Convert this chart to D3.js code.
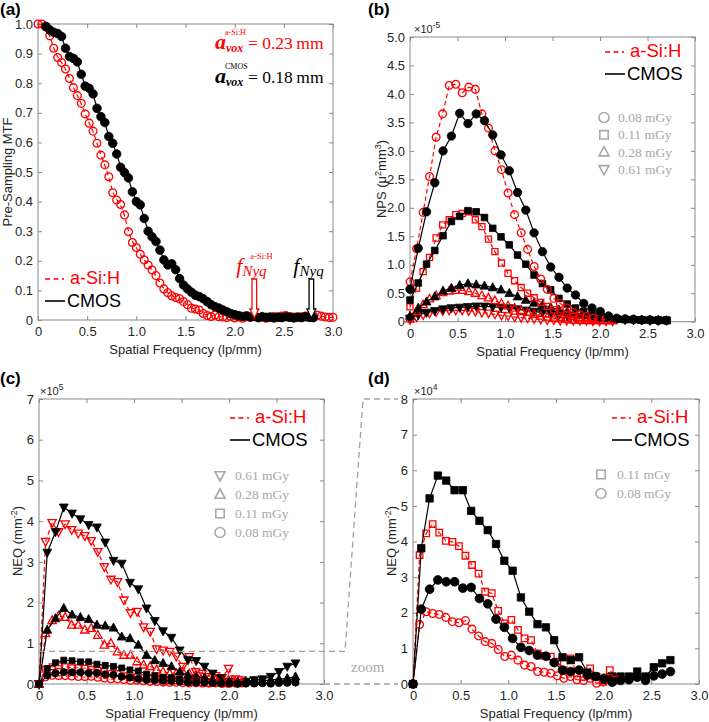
<!DOCTYPE html>
<html><head><meta charset="utf-8">
<script src="https://cdn.jsdelivr.net/npm/d3@7"></script>
<style>body{margin:0;background:#fff}</style>
</head><body><script>
// ---------------- DATA ----------------
// (a) Pre-sampling MTF
const mtfFreq = [0,0.04,0.08,0.12,0.16,0.20,0.24,0.28,0.32,0.36,0.40,0.44,0.48,0.52,0.56,0.60,0.64,0.68,0.72,0.76,0.80,0.84,0.88,0.92,0.96,1.00,1.04,1.08,1.12,1.16,1.20,1.24,1.28,1.32,1.36,1.40,1.44,1.48,1.52,1.56,1.60,1.64,1.68,1.72,1.76,1.80,1.84,1.88,1.92,1.96,2.00,2.04,2.08,2.12,2.16,2.20,2.24,2.28,2.32,2.36,2.40,2.44,2.48,2.52,2.56,2.60,2.64,2.68,2.72,2.76,2.80,2.84,2.88,2.92,2.96,3.00];
const mtfASi = [1.000,1.000,0.990,0.960,0.918,0.887,0.870,0.848,0.816,0.785,0.758,0.732,0.696,0.665,0.638,0.597,0.557,0.524,0.484,0.430,0.405,0.390,0.355,0.298,0.262,0.245,0.222,0.203,0.186,0.169,0.150,0.125,0.105,0.092,0.082,0.076,0.072,0.062,0.052,0.040,0.037,0.034,0.022,0.015,0.012,0.017,0.011,0.010,0.008,0.012,0.007,0.010,0.006,0.011,0.009,0.012,0.008,0.010,0.006,0.009,0.012,0.008,0.013,0.015,0.012,0.010,0.008,0.011,0.013,0.009,0.014,0.016,0.013,0.010,0.008,0.009];
const mtfCmos = [null,null,0.992,0.980,0.972,0.968,0.958,0.918,0.890,0.884,0.872,0.830,0.790,0.783,0.764,0.715,0.687,0.667,0.620,0.597,0.561,0.516,0.498,0.480,0.433,0.400,0.389,0.343,0.300,0.281,0.265,0.236,0.203,0.186,0.190,0.170,0.140,0.118,0.105,0.094,0.084,0.079,0.072,0.062,0.052,0.045,0.040,0.034,0.028,0.022,0.018,0.015,0.012,0.014,0.010,0.012,0.008,0.011,0.009,0.010,0.007,0.010,0.008,0.011,0.009,0.007,0.010,0.008,0.011,0.009,0.008];
const nyqFreq = [2.2, 2.78];          // a-Si:H, CMOS Nyquist frequencies (lp/mm)
const avox = ["0.23", "0.18"];        // a-Si:H, CMOS voxel sizes (mm)

// frequency samples of the NPS / NEQ curves
const freqCmos = [0,0.087,0.174,0.261,0.348,0.436,0.523,0.610,0.697,0.784,0.871,0.958,1.045,1.132,1.219,1.306,1.394,1.481,1.568,1.655,1.742,1.829,1.916,2.003,2.090,2.177,2.265,2.352,2.439,2.526,2.613,2.700];
const freqASi  = [0,0.069,0.138,0.206,0.275,0.344,0.413,0.482,0.550,0.619,0.688,0.757,0.826,0.894,0.963,1.032,1.101,1.170,1.238,1.307,1.376,1.445,1.514,1.582,1.651,1.720,1.789,1.858,1.926,1.995,2.064,2.133];

// (b) NPS, units of 1e-5 µ²mm³
const npsCmos008 = [0.57,1.29,1.93,2.44,3.00,3.26,3.66,3.48,3.65,3.53,3.28,2.93,2.65,2.27,1.96,1.56,1.23,0.96,0.78,0.59,0.47,0.32,0.24,0.18,0.10,0.06,0.05,0.04,0.03,0.03,0.02,0.02];
const npsASi008  = [0.70,1.28,1.92,2.55,3.24,3.65,4.15,4.17,4.02,4.12,4.08,3.65,3.40,3.00,2.67,2.26,1.88,1.56,1.27,0.97,0.75,0.57,0.41,0.32,0.24,0.16,0.12,0.09,0.06,0.05,0.04,0.03];
const npsCmos011 = [0.38,0.68,1.01,1.25,1.51,1.76,1.85,1.95,1.93,1.83,1.64,1.49,1.35,1.17,1.01,0.82,0.67,0.56,0.41,0.31,0.24,0.18,0.13,0.10,0.07,0.05,0.04,0.04,0.03,0.03,0.03,0.03];
const npsASi011  = [0.26,0.59,0.88,1.13,1.47,1.70,1.79,1.88,1.90,1.93,1.79,1.67,1.45,1.23,1.03,0.85,0.72,0.60,0.50,0.42,0.34,0.27,0.21,0.16,0.12,0.09,0.07,0.05,0.04,0.04,0.03,0.03];
const npsCmos028 = [0.10,0.24,0.35,0.44,0.54,0.59,0.64,0.67,0.65,0.63,0.60,0.56,0.50,0.44,0.38,0.33,0.29,0.25,0.21,0.18,0.15,0.12,0.10,0.08,0.06,0.05,0.04,0.04,0.03,0.03,0.03,0.02];
const npsASi028  = [0.05,0.18,0.30,0.40,0.46,0.51,0.54,0.55,0.55,0.53,0.50,0.46,0.42,0.37,0.32,0.28,0.24,0.20,0.16,0.13,0.10,0.08,0.06,0.05,0.04,0.03,0.03,0.02,0.02,0.02,0.02,0.02];
const npsCmos061 = [0.06,0.12,0.16,0.19,0.22,0.24,0.25,0.26,0.27,0.27,0.26,0.25,0.24,0.22,0.20,0.18,0.16,0.14,0.12,0.10,0.09,0.08,0.06,0.05,0.04,0.04,0.03,0.03,0.03,0.02,0.02,0.02];
const npsASi061  = [0.03,0.08,0.12,0.15,0.17,0.19,0.20,0.20,0.20,0.19,0.18,0.16,0.15,0.13,0.11,0.10,0.08,0.07,0.06,0.05,0.04,0.03,0.03,0.02,0.02,0.02,0.02,0.02,0.01,0.01,0.01,0.01];

// (c)/(d) NEQ, units of 1e4 mm^-2
const neqCmos061 = [0,32.3,37.4,43.4,41.9,40.5,39.1,38.5,34.8,30.3,29.6,24.9,23.3,18.6,15.5,13.0,11.4,8.3,5.9,5.7,4.3,2.6,1.5,0.6,0.3,0.6,1.0,1.2,1.8,3.0,4.3,5.1];
const neqASi061  = [0,35.0,39.6,37.4,39.3,37.9,37.0,36.4,35.2,32.5,28.8,25.7,25.1,20.6,17.5,17.8,14.0,12.9,8.6,8.3,8.0,6.8,4.3,6.7,3.0,2.6,1.8,2.0,1.5,3.8,1.2,1.0];
const neqCmos028 = [0,13.3,16.1,18.6,17.0,16.4,15.9,14.5,14.3,13.8,11.6,11.2,9.6,7.1,5.8,5.1,4.3,3.0,2.2,1.8,1.5,1.0,0.8,0.5,0.5,0.6,0.7,0.8,1.0,1.2,1.4,1.8];
const neqASi028  = [0,12.4,15.6,16.7,16.4,14.5,14.5,13.3,13.7,12.0,9.6,10.0,7.9,7.1,7.1,5.5,4.7,4.3,3.5,3.0,2.6,2.6,3.0,2.5,2.2,1.8,1.2,1.0,0.8,1.0,0.6,0.5];
const neqCmos011 = [0,3.81,5.21,5.85,5.71,5.44,5.44,4.86,4.58,4.32,3.93,3.46,3.18,2.43,2.03,1.68,1.59,1.23,0.75,0.67,0.75,0.32,0.21,0.12,0.21,0.21,0.21,0.35,0.21,0.47,0.58,0.67];
const neqASi011  = [0,3.62,4.23,4.49,4.25,4.02,3.99,3.87,3.60,3.34,3.10,2.59,2.55,2.05,1.70,1.80,1.52,1.28,1.23,0.86,0.79,0.77,0.63,0.39,0.72,0.30,0.20,0.44,0.20,0.06,0.39,0.16];
const neqCmos008 = [0,2.10,2.66,2.92,2.87,2.87,2.69,2.71,2.40,2.25,1.82,1.59,1.28,1.03,0.94,0.81,0.78,0.60,0.39,0.35,0.39,0.25,0.21,0.16,0.05,0.10,0.12,0.19,0.10,0.23,0.28,0.35];
const neqASi008  = [0,1.67,2.03,1.98,1.95,1.87,1.75,1.72,1.78,1.54,1.35,1.19,1.14,0.97,0.77,0.81,0.67,0.53,0.49,0.35,0.33,0.30,0.23,0.16,0.21,0.12,0.10,0.16,0.02,0.06,0.16,0.12];
const zoomLevel = 0.8;   // NEQ (×1e5) level of the zoomed region shown in (d)

// ticks / labels
const freqTicks = [0,0.5,1.0,1.5,2.0,2.5,3.0];
const mtfTicks = [0,0.1,0.2,0.3,0.4,0.5,0.6,0.7,0.8,0.9,1.0];
const npsTicks = [0,0.5,1.0,1.5,2.0,2.5,3.0,3.5,4.0,4.5,5.0];
const neqCTicks = [0,1,2,3,4,5,6,7];
const neqDTicks = [0,1,2,3,4,5,6,7,8];
const detectors = ["a-Si:H", "CMOS"];
const doseLabelsB = ["0.08 mGy","0.11 mGy","0.28 mGy","0.61 mGy"];
const doseLabelsC = ["0.61 mGy","0.28 mGy","0.11 mGy","0.08 mGy"];
const doseLabelsD = ["0.11 mGy","0.08 mGy"];

// ---------------- DRAWING ----------------
const SANS = '"Liberation Sans", Arial, Helvetica, sans-serif';
const SERIF = '"Liberation Serif", "Times New Roman", serif';
const RED = '#ff0000', BLK = '#000000', GRAY = '#a8a8a8', AXC = '#8a8a8a', TXT = '#262626';
const NEQU = 1e4;

const svg = d3.select('body').append('svg').attr('width', 709).attr('height', 722)
  .style('font-family', SANS);

function fmt1(v){ return v === 0 ? '0' : d3.format('.1f')(v); }

function panel(c) {
  const g = svg.append('g');
  const x = d3.scaleLinear().domain([0, 3]).range([c.left, c.right]);
  const y = d3.scaleLinear().domain(c.yDomain).range([c.bottom, c.top]);
  const style = sel => {
    sel.select('.domain').remove();
    sel.selectAll('line').attr('stroke', AXC);
    sel.selectAll('text').attr('fill', TXT).attr('font-size', 13).attr('font-family', SANS);
  };
  g.append('g').attr('transform', `translate(0,${c.bottom})`)
    .call(d3.axisBottom(x).tickValues(freqTicks).tickFormat(fmt1).tickSize(-4).tickPadding(7)).call(style);
  g.append('g').attr('transform', `translate(0,${c.top})`)
    .call(d3.axisTop(x).tickValues(freqTicks).tickFormat(() => '').tickSize(-4)).call(style);
  g.append('g').attr('transform', `translate(${c.left},0)`)
    .call(d3.axisLeft(y).tickValues(c.yTicks).tickFormat(c.yFmt).tickSize(-4).tickPadding(5)).call(style);
  g.append('g').attr('transform', `translate(${c.right},0)`)
    .call(d3.axisRight(y).tickValues(c.yTicks).tickFormat(() => '').tickSize(-4)).call(style);
  g.append('rect').attr('x', c.left).attr('y', c.top).attr('width', c.right - c.left)
    .attr('height', c.bottom - c.top).attr('fill', 'none').attr('stroke', AXC).attr('stroke-width', 1);
  g.append('text').attr('x', (c.left + c.right) / 2).attr('y', c.bottom + 34)
    .attr('text-anchor', 'middle').attr('font-size', 13).attr('fill', TXT).text('Spatial Frequency (lp/mm)');
  return {g, x, y, c};
}

function markerPath(type, s) {
  switch (type) {
    case 'circle': return `M${-s},0A${s},${s} 0 1,0 ${s},0A${s},${s} 0 1,0 ${-s},0Z`;
    case 'square': return `M${-s},${-s}H${s}V${s}H${-s}Z`;
    case 'up': return `M0,${-s * 1.1}L${s},${s * 0.75}H${-s}Z`;
    case 'down': return `M0,${s * 1.1}L${s},${-s * 0.75}H${-s}Z`;
  }
}

function series(P, freq, vals, o) {
  const data = freq.map((f, i) => ({f, v: vals[i]})).filter(d => d.v != null && d.v !== undefined);
  const k = o.k || 1;
  const line = d3.line().x(d => P.x(d.f)).y(d => P.y(d.v * k));
  if (o.curve) line.curve(o.curve);
  P.g.append('path').datum(data).attr('d', line).attr('fill', 'none')
    .attr('stroke', o.color).attr('stroke-width', 1.2)
    .attr('stroke-dasharray', o.dashed ? '4.5,3' : null);
  P.g.append('g').selectAll('path').data(data).join('path')
    .attr('transform', d => `translate(${P.x(d.f)},${P.y(d.v * k)})`)
    .attr('d', markerPath(o.marker, o.size))
    .attr('fill', o.filled ? o.color : 'none')
    .attr('stroke', o.color).attr('stroke-width', o.filled ? 0.8 : 1.3);
}

function detLegend(xLine, yA, yB, fs) {
  svg.append('line').attr('x1', xLine).attr('x2', xLine + 19).attr('y1', yA - 5).attr('y2', yA - 5)
    .attr('stroke', RED).attr('stroke-width', 1.5).attr('stroke-dasharray', '5,3.5');
  svg.append('text').attr('x', xLine + 25).attr('y', yA).attr('font-size', fs).attr('fill', RED).text(detectors[0]);
  svg.append('line').attr('x1', xLine).attr('x2', xLine + 20).attr('y1', yB - 6).attr('y2', yB - 6)
    .attr('stroke', BLK).attr('stroke-width', 1.6);
  svg.append('text').attr('x', xLine + 22).attr('y', yB).attr('font-size', fs).attr('fill', BLK).text(detectors[1]);
}

function doseLegend(xm, xt, y0, dy, labels, markers) {
  labels.forEach((lab, i) => {
    const yy = y0 + i * dy;
    svg.append('path').attr('transform', `translate(${xm},${yy - 4.5})`).attr('d', markerPath(markers[i], markers[i] === 'square' ? 4.2 : 5))
      .attr('fill', 'none').attr('stroke', GRAY).attr('stroke-width', 1.6);
    svg.append('text').attr('x', xt).attr('y', yy).attr('font-size', 13.5).attr('font-family', SERIF)
      .attr('fill', GRAY).text(lab);
  });
}

function panelLabel(x, y, t) {
  svg.append('text').attr('x', x).attr('y', y).attr('font-size', 17).attr('font-weight', 'bold').attr('fill', BLK).text(t);
}

function multiplier(x, y, exp) {
  const t = svg.append('text').attr('x', x).attr('y', y).attr('font-size', 11).attr('fill', TXT);
  t.append('tspan').text('\u00d710');
  t.append('tspan').attr('dy', -5).attr('font-size', 8.5).text(exp);
}

function yTitle(x, y, parts) {
  const t = svg.append('text').attr('transform', `translate(${x},${y}) rotate(-90)`)
    .attr('text-anchor', 'middle').attr('font-size', 13).attr('fill', TXT);
  parts.forEach(p => {
    const s = t.append('tspan').text(p.t);
    if (p.sup) s.attr('dy', -5).attr('font-size', 9);
    if (p.back) s.attr('dy', 5);
  });
}

// ---------- (a) MTF ----------
const A = panel({left: 38, right: 333, top: 24, bottom: 320, yDomain: [0, 1], yTicks: mtfTicks, yFmt: fmt1});
series(A, mtfFreq, mtfASi, {color: RED, dashed: true, marker: 'circle', size: 3.9, filled: false, curve: d3.curveBasis});
series(A, mtfFreq, mtfCmos, {color: BLK, dashed: false, marker: 'circle', size: 4.3, filled: true, curve: d3.curveBasis});
yTitle(12, 172, [{t: 'Pre-Sampling MTF'}]);
panelLabel(0, 15, '(a)');
detLegend(45, 284, 307, 18);

// voxel annotations: a (bold italic), subscript vox, superscript detector, value
[[RED, avox[0], 'a-Si:H', 49], [BLK, avox[1], 'CMOS', 83]].forEach(([col, val, sup, by]) => {
  svg.append('text').attr('x', 215).attr('y', by).attr('fill', col).attr('font-family', SERIF)
    .attr('font-size', 22).attr('font-style', 'italic').attr('font-weight', 'bold').text('a');
  svg.append('text').attr('x', 226).attr('y', by + 3).attr('fill', col).attr('font-family', SERIF)
    .attr('font-size', 12).attr('font-style', 'italic').attr('font-weight', 'bold').text('vox');
  svg.append('text').attr('x', 225).attr('y', by - 14).attr('fill', col).attr('font-family', SERIF)
    .attr('font-size', 8).text(sup);
  svg.append('text').attr('x', 248).attr('y', by).attr('fill', col).attr('font-family', SERIF)
    .attr('font-size', 17.5).text('= ' + val + '\u2009mm');
});
// Nyquist arrows
nyqFreq.forEach((f, i) => {
  const col = i === 0 ? RED : BLK;
  const cx = A.x(f), top = 279, tip = 318;
  svg.append('path').attr('d', `M${cx - 2.3},${top}H${cx + 2.3}V${tip - 9}H${cx + 4.5}L${cx},${tip}L${cx - 4.5},${tip - 9}H${cx - 2.3}Z`)
    .attr('fill', '#fff').attr('stroke', col).attr('stroke-width', 1.3);
  const t = svg.append('text').attr('x', cx - 18).attr('y', 273).attr('fill', col).attr('font-family', SERIF).attr('font-style', 'italic');
  t.append('tspan').attr('font-size', 22).text('f');
  t.append('tspan').attr('font-size', 15).attr('dy', 3).text('Nyq');
  if (i === 0) svg.append('text').attr('x', cx - 4).attr('y', 259).attr('fill', col).attr('font-family', SERIF).attr('font-size', 8.5).text('a-Si:H');
});

// ---------- (b) NPS ----------
const B = panel({left: 410, right: 695, top: 37, bottom: 321.7, yDomain: [0, 5], yTicks: npsTicks, yFmt: fmt1});
[[npsASi061, npsCmos061, 'down', 4.4], [npsASi028, npsCmos028, 'up', 4.4], [npsASi011, npsCmos011, 'square', 3.3], [npsASi008, npsCmos008, 'circle', 4.2]]
  .forEach(([ra, ba, m, s]) => {
    series(B, freqASi, ra, {color: RED, dashed: true, marker: m, size: s * 0.92, filled: false});
    series(B, freqCmos, ba, {color: BLK, dashed: false, marker: m, size: s, filled: true});
  });
yTitle(386, 179, [{t: 'NPS ('}, {t: '\u03bc'}, {t: '2', sup: true}, {t: 'mm', back: true}, {t: '3', sup: true}, {t: ')', back: true}]);
panelLabel(368, 15, '(b)');
multiplier(414, 33, '-5');
detLegend(605, 57, 80, 18.5);
doseLegend(604, 618, 122, 17.3, doseLabelsB, ['circle', 'square', 'up', 'down']);

// ---------- (c) NEQ ----------
const C = panel({left: 39, right: 324, top: 399, bottom: 684, yDomain: [0, 7e5], yTicks: neqCTicks.map(v => v * 1e5), yFmt: v => String(v / 1e5)});
[[neqASi061, neqCmos061, 'down', 4.4], [neqASi028, neqCmos028, 'up', 4.4], [neqASi011, neqCmos011, 'square', 3.0], [neqASi008, neqCmos008, 'circle', 3.6]]
  .forEach(([ra, ba, m, s]) => {
    series(C, freqASi, ra, {color: RED, dashed: true, marker: m, size: s * 0.95, filled: false, k: NEQU});
    series(C, freqCmos, ba, {color: BLK, dashed: false, marker: m, size: s, filled: true, k: NEQU});
  });
yTitle(22, 541, [{t: 'NEQ (mm'}, {t: '-2', sup: true}, {t: ')', back: true}]);
panelLabel(0, 384, '(c)');
multiplier(40, 395, '5');
detLegend(230, 423, 446, 18.5);
doseLegend(220, 235, 480, 19, doseLabelsC, ['down', 'up', 'square', 'circle']);

// ---------- (d) NEQ zoom ----------
const D = panel({left: 413, right: 699, top: 399, bottom: 684, yDomain: [0, 8e4], yTicks: neqDTicks.map(v => v * 1e4), yFmt: v => String(v / 1e4)});
[[neqASi011, neqCmos011, 'square', 3.7], [neqASi008, neqCmos008, 'circle', 4.4]]
  .forEach(([ra, ba, m, s]) => {
    series(D, freqASi, ra, {color: RED, dashed: true, marker: m, size: s * 0.88, filled: false, k: NEQU});
    series(D, freqCmos, ba, {color: BLK, dashed: false, marker: m, size: s, filled: true, k: NEQU});
  });
yTitle(396, 541, [{t: 'NEQ (mm'}, {t: '-2', sup: true}, {t: ')', back: true}]);
panelLabel(368, 384, '(d)');
multiplier(414, 395, '4');
detLegend(612, 423, 446, 18.5);
doseLegend(601, 617, 479, 19, doseLabelsD, ['square', 'circle']);

// ---------- zoom connector ----------
const yz = C.y(zoomLevel * 1e5);
const zp1 = 'M ' + C.c.left + ' ' + yz + ' L 345 ' + yz + ' L 363 ' + D.c.top + ' L 398 ' + D.c.top;
const zp2 = 'M ' + C.c.right + ' ' + C.c.bottom + ' L 398 ' + D.c.bottom;
[zp1, zp2].forEach(d => {
  svg.append('path').attr('d', d).attr('fill', 'none').attr('stroke', '#a0a0a0')
    .attr('stroke-width', 1.3).attr('stroke-dasharray', '6 4');
});
svg.append('text').attr('x', 351).attr('y', 672).attr('font-family', SERIF).attr('font-size', 15)
  .attr('fill', GRAY).text('zoom');
</script></body></html>
